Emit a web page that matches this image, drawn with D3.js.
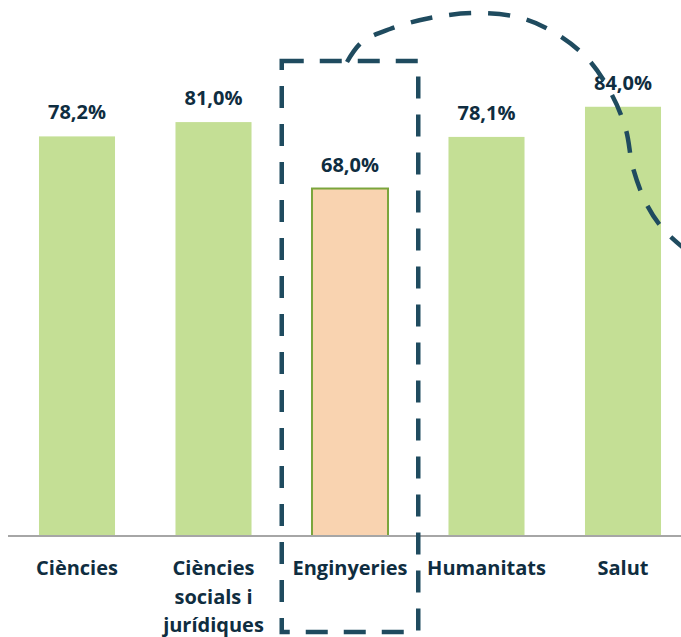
<!DOCTYPE html>
<html>
<head>
<meta charset="utf-8">
<script src="https://cdn.jsdelivr.net/npm/d3@7"></script>
<style>
  html, body { margin: 0; padding: 0; background: #fff; }
  svg { display: block; }
</style>
</head>
<body>
<div id="chart"></div>
<script>
// data
const categories = ['Ciències', 'Ciències socials i jurídiques', 'Enginyeries', 'Humanitats', 'Salut'];
const values = [78.2, 81.0, 68.0, 78.1, 84.0];
const highlighted = 'Enginyeries';

// #region Shared variables
const width = 681;
const height = 637;
const baseline = 536;
const textColor = '#0f2d40';
const accent = '#1f4b5f';
const font = "'Open Sans', sans-serif";
const svg = d3.select('#chart').append('svg').attr('width', width).attr('height', height);
// #endregion

// #region Scales
const x = d3.scaleBand().domain(categories).range([8.75, 691.25]).paddingInner(0.443).paddingOuter(0.2215);
const y = d3.scaleLinear().domain([0, 100]).range([baseline, 25]);
const fmt = v => d3.format('.1f')(v).replace('.', ',') + '%';
// #endregion

// #region Bars
svg.append('g')
  .selectAll('rect')
  .data(categories)
  .enter()
  .append('rect')
  .attr('x', d => x(d))
  .attr('y', (d, i) => y(values[i]))
  .attr('width', x.bandwidth())
  .attr('height', (d, i) => y(0) - y(values[i]))
  .attr('fill', d => (d === highlighted ? '#f9d3b0' : '#c4df95'))
  .attr('stroke', d => (d === highlighted ? '#7ba53c' : 'none'))
  .attr('stroke-width', 2);

svg.append('g')
  .selectAll('text')
  .data(categories)
  .enter()
  .append('text')
  .attr('x', d => x(d) + x.bandwidth() / 2)
  .attr('y', (d, i) => y(values[i]) - 17)
  .attr('text-anchor', 'middle')
  .style('font-family', font)
  .style('font-weight', 700)
  .style('font-size', '20px')
  .style('fill', textColor)
  .text((d, i) => fmt(values[i]));
// #endregion

// #region Axis
const xAxis = svg.append('g')
  .attr('transform', `translate(0, ${baseline})`)
  .call(d3.axisBottom(x).tickSize(0).tickPadding(0));

xAxis.select('.domain').remove();
xAxis.append('line')
  .attr('x1', 8).attr('x2', width)
  .attr('stroke', '#a6a6a6')
  .attr('stroke-width', 2);

xAxis.selectAll('.tick text')
  .style('font-family', font)
  .style('font-weight', 700)
  .style('font-size', '20px')
  .style('fill', textColor)
  .attr('dy', 0)
  .attr('y', 39)
  .call(wrap, x.step() - 6);

function wrap(texts, maxWidth) {
  texts.each(function () {
    const text = d3.select(this);
    const words = text.text().split(/\s+/);
    const yPos = text.attr('y');
    let line = [];
    let lineNo = 0;
    let tspan = text.text(null).append('tspan').attr('x', 0).attr('y', yPos);
    words.forEach(word => {
      line.push(word);
      tspan.text(line.join(' '));
      if (tspan.node().getComputedTextLength() > maxWidth && line.length > 1) {
        line.pop();
        tspan.text(line.join(' '));
        line = [word];
        lineNo += 1;
        tspan = text.append('tspan').attr('x', 0).attr('y', +yPos + lineNo * 28.5).text(word);
      }
    });
  });
}
// #endregion

// #region Annotations
const boxX = x(highlighted) - (x.step() - x.bandwidth()) / 2;
svg.append('rect')
  .attr('x', boxX)
  .attr('y', 61)
  .attr('width', x.step())
  .attr('height', 571)
  .attr('fill', 'none')
  .attr('stroke', accent)
  .attr('stroke-width', 4.5)
  .attr('stroke-dasharray', '22 16');

const swoosh = [
  [347, 62], [362, 42], [390, 29], [430, 18], [475, 13], [517, 17], [550, 30],
  [587, 58], [612, 95], [626, 130], [633, 168], [647, 205], [664, 230], [686, 250],
];
svg.append('path')
  .attr('d', d3.line().curve(d3.curveCatmullRom)(swoosh))
  .attr('fill', 'none')
  .attr('stroke', accent)
  .attr('stroke-width', 4.5)
  .attr('stroke-dasharray', '22 17');
// #endregion
</script>
</body>
</html>
